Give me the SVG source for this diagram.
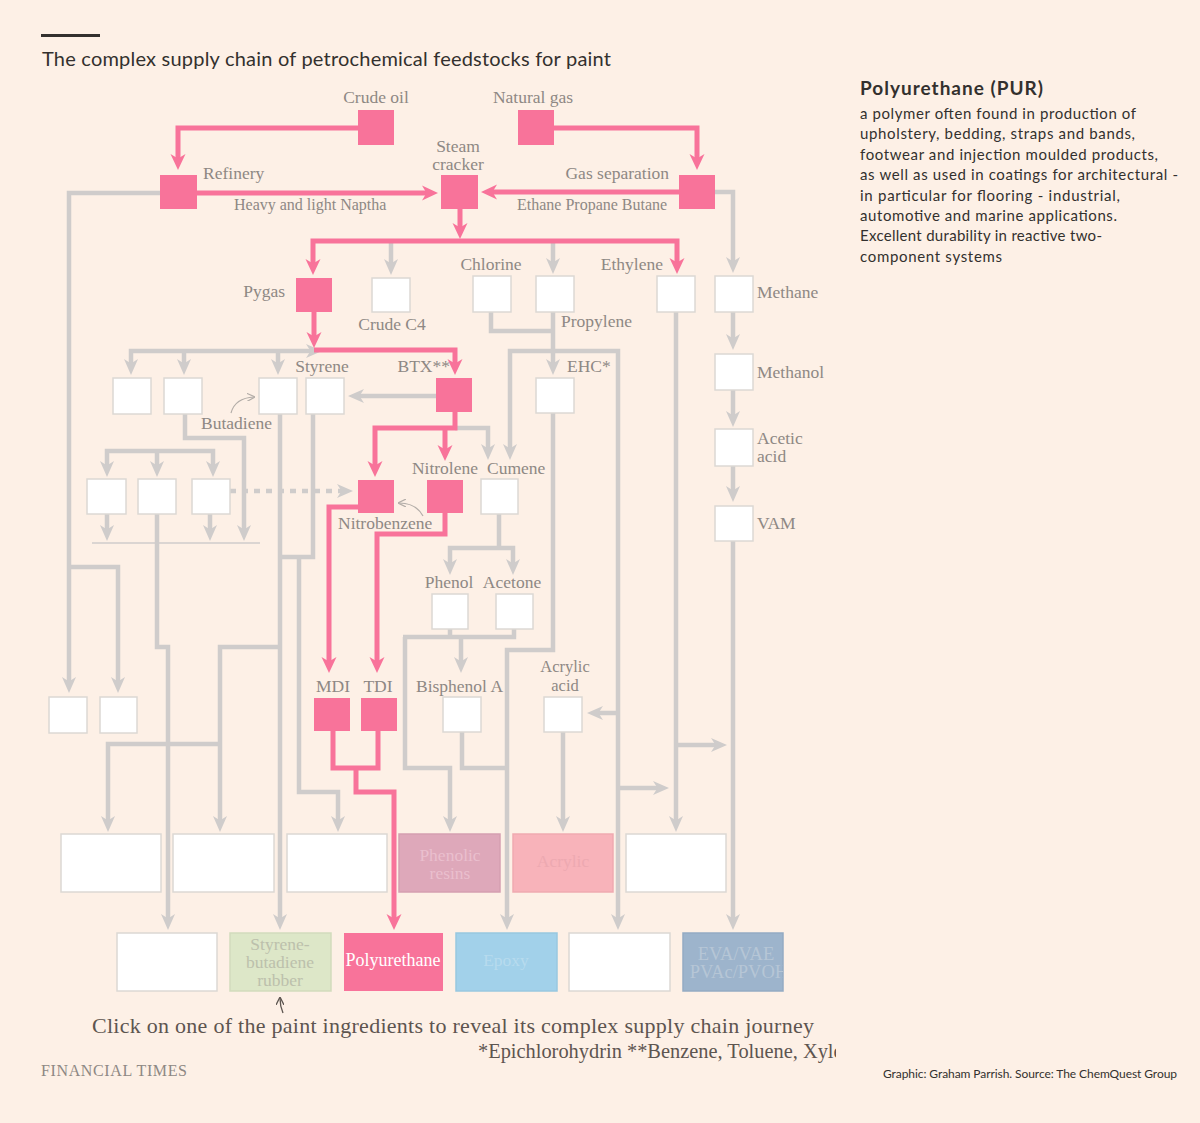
<svg xmlns="http://www.w3.org/2000/svg" width="1200" height="1123" viewBox="0 0 1200 1123">
<style>
.pk{fill:#f8739a}
.wb{fill:#fff;stroke:#dcd8d4;stroke-width:1.5}
.lbl{font-family:"Liberation Serif",serif;font-size:17.5px;fill:#8e8884}
.sm{font-size:16px}
.mid{text-anchor:middle}
.end{text-anchor:end}
.cp{fill:none;stroke:#f8739a;stroke-width:5}
.cg{fill:none;stroke:#cfcccb;stroke-width:4.5}
.ap{marker-end:url(#ap)}
.ag{marker-end:url(#ag)}
.sans{font-family:Lato,"Liberation Sans",sans-serif;fill:#33302e}
.ptr{fill:none;stroke:#b3ada8;stroke-width:1.2}
</style>
<defs>
<marker id="ap" viewBox="0 0 16 16" markerWidth="16" markerHeight="16" refX="8" refY="8" markerUnits="userSpaceOnUse" orient="auto-start-reverse"><path d="M0,0.5 L16,8 L0,15.5 L4.5,8 Z" fill="#f8739a"/></marker>
<marker id="ag" viewBox="0 0 16 16" markerWidth="16" markerHeight="16" refX="8" refY="8" markerUnits="userSpaceOnUse" orient="auto-start-reverse"><path d="M0,1 L16,8 L0,15 L4.5,8 Z" fill="#cfcccb"/></marker>
<marker id="as" viewBox="0 0 8 8" markerWidth="8" markerHeight="8" refX="7" refY="4" markerUnits="userSpaceOnUse" orient="auto"><path d="M0,0 L8,4 L0,8" fill="none" stroke="#b3ada8" stroke-width="1.2"/></marker>
<marker id="asd" viewBox="0 0 8 8" markerWidth="8" markerHeight="8" refX="7" refY="4" markerUnits="userSpaceOnUse" orient="auto"><path d="M0,0 L8,4 L0,8" fill="none" stroke="#5d5550" stroke-width="1.3"/></marker>
<clipPath id="clipDiag"><rect x="0" y="0" width="836" height="1123"/></clipPath>
<clipPath id="clipEva"><rect x="683" y="933" width="100" height="58"/></clipPath>
</defs>
<rect x="0" y="0" width="1200" height="1123" fill="#fdf0e6"/>

<!-- header -->
<rect x="41" y="34" width="59" height="3" fill="#33302e"/>
<text class="sans" x="42" y="66" font-size="20" textLength="569">The complex supply chain of petrochemical feedstocks for paint</text>

<!-- connectors -->
<g id="connectors">
  <!-- grey -->
  <path class="cg ag" d="M160,193 H69 V685"/>
  <path class="cg ag" d="M69,567 H118 V685"/>
  <path class="cg ag" d="M715,192 H733 V265"/>
  <path class="cg ag" d="M391,243 V267"/>
  <path class="cg ag" d="M553,243 V266"/>
  <path class="cg ag" d="M733,312 V342"/>
  <path class="cg ag" d="M733,390 V419"/>
  <path class="cg ag" d="M733,466 V494"/>
  <path class="cg ag" d="M733,541 V922"/>
  <path class="cg" d="M491,312 V331 H555"/>
  <path class="cg ag" d="M553,312 V367"/>
  <path class="cg ag" d="M510,452 V351 H618 V922" marker-start="url(#ag)"/>
  <path class="cg ag" d="M618,713 H595"/>
  <path class="cg ag" d="M618,788 H661"/>
  <path class="cg ag" d="M676,312 V824"/>
  <path class="cg ag" d="M676,745 H719"/>
  <path class="cg ag" d="M553,413 V650 H507 V922"/>
  <path class="cg" d="M462,732 V768 H509"/>
  <path class="cg" d="M499,514 V548"/>
  <path class="cg ag" d="M450,567 V548 H513 V567" marker-start="url(#ag)"/>
  <path class="cg" d="M450,629 V637 M514,629 V637 M403,637 H516.2"/>
  <path class="cg ag" d="M405,637 V768 H450 V824"/>
  <path class="cg ag" d="M461,637 V665"/>
  <path class="cg ag" d="M563,732 V824"/>
  <path class="cg ag" d="M436,396 H356"/>
  <path class="cg ag" d="M455,428 H488 V452"/>
  <path class="cg ag" d="M131,367 V351 H314" marker-start="url(#ag)"/>
  <path class="cg ag" d="M184,351 V367"/>
  <path class="cg ag" d="M278,351 V367"/>
  <path class="cg ag" d="M185,414 V438 H244 V533"/>
  <path class="cg ag" d="M107,469 V451 H213 V469" marker-start="url(#ag)"/>
  <path class="cg ag" d="M157,451 V469"/>
  <path class="cg ag" d="M107,514 V533"/>
  <path class="cg ag" d="M210,514 V533"/>
  <path d="M92,543 H260" fill="none" stroke="#cfcccb" stroke-width="1.5"/>
  <path class="cg ag" d="M157,514 V647 H168 V922"/>
  <path class="cg ag" d="M230,491 H345" stroke-dasharray="6,6"/>
  <path class="cg ag" d="M280,414 V922"/>
  <path class="cg ag" d="M280,647 H220 V824"/>
  <path class="cg ag" d="M220,744 H108 V824"/>
  <path class="cg" d="M313,414 V557 H280"/>
  <path class="cg ag" d="M299,557 V792 H338 V824"/>
  <!-- pink -->
  <path class="cp ap" d="M358,128 H178 V162"/>
  <path class="cp ap" d="M554,128 H697 V162"/>
  <path class="cp ap" d="M197,193 H430"/>
  <path class="cp ap" d="M679,192 H489"/>
  <path class="cp ap" d="M460,209 V231"/>
  <path class="cp ap" d="M313,267 V241 H677 V266" marker-start="url(#ap)"/>
  <path class="cp ap" d="M314,312 V340"/>
  <path class="cp ap" d="M314,350 H455 V367"/>
  <path class="cp ap" d="M455,412 V428 H375 V469"/>
  <path class="cp ap" d="M445,428 V453"/>
  <path class="cp ap" d="M358,507 H329 V665"/>
  <path class="cp ap" d="M445,513 V534 H377 V665"/>
  <path class="cp" d="M333,731 V768 H378 V731"/>
  <path class="cp ap" d="M356,768 V792 H394 V922"/>
  <!-- label pointers -->
  <path class="ptr" d="M231,413 Q235,398 254,397" marker-end="url(#as)"/>
  <path class="ptr" d="M423,516 Q416,503 399,503" marker-end="url(#as)"/>
</g>

<!-- nodes -->
<g id="crude-oil"><rect class="pk" x="358" y="110" width="36" height="35"/><text class="lbl mid" x="376" y="103">Crude oil</text></g>
<g id="natural-gas"><rect class="pk" x="518" y="110" width="36" height="35"/><text class="lbl mid" x="533" y="103">Natural gas</text></g>
<g id="refinery"><rect class="pk" x="160" y="175" width="37" height="34"/><text class="lbl" x="203" y="179">Refinery</text><text class="lbl sm" x="234" y="210">Heavy and light Naptha</text></g>
<g id="steam-cracker"><rect class="pk" x="441" y="175" width="37" height="34"/><text class="lbl mid" x="458" y="152">Steam<tspan x="458" dy="18">cracker</tspan></text></g>
<g id="gas-separation"><rect class="pk" x="679" y="175" width="36" height="34"/><text class="lbl end" x="669" y="179">Gas separation</text><text class="lbl sm" x="517" y="210">Ethane Propane Butane</text></g>
<g id="pygas"><rect class="pk" x="296" y="278" width="36" height="34"/><text class="lbl end" x="285" y="297">Pygas</text></g>
<g id="crude-c4"><rect class="wb" x="372" y="278" width="38" height="34"/><text class="lbl mid" x="392" y="330">Crude C4</text></g>
<g id="chlorine"><rect class="wb" x="473" y="276" width="38" height="36"/><text class="lbl mid" x="491" y="270">Chlorine</text></g>
<g id="propylene"><rect class="wb" x="536" y="276" width="38" height="36"/><text class="lbl" x="561" y="327">Propylene</text></g>
<g id="ethylene"><rect class="wb" x="657" y="276" width="38" height="36"/><text class="lbl end" x="663" y="270">Ethylene</text></g>
<g id="methane"><rect class="wb" x="715" y="276" width="38" height="36"/><text class="lbl" x="757" y="298">Methane</text></g>
<g id="methanol"><rect class="wb" x="715" y="354" width="38" height="36"/><text class="lbl" x="757" y="378">Methanol</text></g>
<g id="acetic-acid"><rect class="wb" x="715" y="429" width="38" height="37"/><text class="lbl" x="757" y="444">Acetic<tspan x="757" dy="18">acid</tspan></text></g>
<g id="vam"><rect class="wb" x="715" y="506" width="38" height="35"/><text class="lbl" x="757" y="529">VAM</text></g>
<g id="ehc"><rect class="wb" x="536" y="378" width="38" height="35"/><text class="lbl" x="567" y="372">EHC*</text></g>
<g id="btx"><rect class="pk" x="436" y="378" width="36" height="34"/><text class="lbl end" x="450" y="372">BTX**</text></g>
<g id="node-a"><rect class="wb" x="113" y="378" width="38" height="36"/></g>
<g id="node-b"><rect class="wb" x="164" y="378" width="38" height="36"/></g>
<g id="butadiene"><rect class="wb" x="259" y="378" width="38" height="36"/><text class="lbl" x="201" y="429">Butadiene</text></g>
<g id="styrene"><rect class="wb" x="306" y="378" width="38" height="36"/><text class="lbl mid" x="322" y="372">Styrene</text></g>
<g id="node-c"><rect class="wb" x="87" y="479" width="39" height="35"/></g>
<g id="node-d"><rect class="wb" x="138" y="479" width="38" height="35"/></g>
<g id="node-e"><rect class="wb" x="192" y="479" width="38" height="35"/></g>
<g id="nitrobenzene"><rect class="pk" x="358" y="480" width="36" height="33"/><text class="lbl" x="338" y="529">Nitrobenzene</text></g>
<g id="nitrolene"><rect class="pk" x="427" y="480" width="36" height="33"/><text class="lbl end" x="478" y="474">Nitrolene</text></g>
<g id="cumene"><rect class="wb" x="481" y="479" width="37" height="35"/><text class="lbl" x="487" y="474">Cumene</text></g>
<g id="phenol"><rect class="wb" x="432" y="594" width="36" height="35"/><text class="lbl mid" x="449" y="588">Phenol</text></g>
<g id="acetone"><rect class="wb" x="496" y="594" width="37" height="35"/><text class="lbl mid" x="512" y="588">Acetone</text></g>
<g id="mdi"><rect class="pk" x="314" y="698" width="36" height="33"/><text class="lbl mid" x="333" y="692">MDI</text></g>
<g id="tdi"><rect class="pk" x="361" y="698" width="36" height="33"/><text class="lbl mid" x="378" y="692">TDI</text></g>
<g id="bisphenol-a"><rect class="wb" x="443" y="697" width="38" height="35"/><text class="lbl" x="416" y="692">Bisphenol A</text></g>
<g id="acrylic-acid"><rect class="wb" x="544" y="697" width="38" height="35"/><text class="lbl mid" x="565" y="672" style="font-size:16.5px">Acrylic<tspan x="565" dy="18.5">acid</tspan></text></g>
<g id="node-f"><rect class="wb" x="49" y="697" width="38" height="36"/></g>
<g id="node-g"><rect class="wb" x="100" y="697" width="37" height="36"/></g>

<!-- paint ingredients row 1 -->
<g id="out-1"><rect class="wb" x="61" y="834" width="100" height="58"/></g>
<g id="out-2"><rect class="wb" x="173" y="834" width="101" height="58"/></g>
<g id="out-3"><rect class="wb" x="287" y="834" width="100" height="58"/></g>
<g id="phenolic-resins"><rect x="399" y="834" width="101" height="58" fill="#dea8ba" stroke="#d59fb1" stroke-width="1.5"/><text class="lbl mid" x="450" y="861" style="fill:#eabfce">Phenolic<tspan x="450" dy="18">resins</tspan></text></g>
<g id="acrylic"><rect x="513" y="834" width="100" height="58" fill="#f8b3ba" stroke="#efaab1" stroke-width="1.5"/><text class="lbl mid" x="563" y="867" style="fill:#eda9b1">Acrylic</text></g>
<g id="out-6"><rect class="wb" x="626" y="834" width="100" height="58"/></g>

<!-- paint ingredients row 2 -->
<g id="out-7"><rect class="wb" x="117" y="933" width="100" height="58"/></g>
<g id="sbr"><rect x="230" y="933" width="101" height="58" fill="#dde7c8" stroke="#d2dbbd" stroke-width="1.5"/><text class="lbl mid" x="280" y="950" style="fill:#bcc0ac">Styrene-<tspan x="280" dy="18">butadiene</tspan><tspan x="280" dy="18">rubber</tspan></text></g>
<g id="polyurethane"><rect class="pk" x="344" y="933" width="99" height="58"/><text class="lbl mid" x="393" y="966" style="fill:#ffffff;font-size:18px">Polyurethane</text></g>
<g id="epoxy"><rect x="456" y="933" width="101" height="58" fill="#a2d1ea" stroke="#98c7e0" stroke-width="1.5"/><text class="lbl mid" x="506" y="966" style="fill:#b7dbee">Epoxy</text></g>
<g id="out-10"><rect class="wb" x="569" y="933" width="101" height="58"/></g>
<g id="eva"><rect x="683" y="933" width="100" height="58" fill="#9db4cc" stroke="#94abc3" stroke-width="1.5"/><g clip-path="url(#clipEva)"><text class="lbl mid" x="736" y="960" style="fill:#b6c6d6;font-size:18.5px">EVA/VAE<tspan x="739" dy="18">PVAc/PVOH</tspan></text></g></g>

<!-- footer -->
<path d="M283,1013 Q280,1006 280,998" fill="none" stroke="#5d5550" stroke-width="1.3" marker-end="url(#asd)"/>
<text x="92" y="1033" font-family="Liberation Serif, serif" font-size="22" fill="#5d5550" textLength="722">Click on one of the paint ingredients to reveal its complex supply chain journey</text>
<g clip-path="url(#clipDiag)"><text x="478" y="1058" font-family="Liberation Serif, serif" font-size="20.4" fill="#5d5550">*Epichlorohydrin **Benzene, Toluene, Xylene</text></g>
<text x="41" y="1076" font-family="Liberation Serif, serif" font-size="16" fill="#8e8884" textLength="146">FINANCIAL TIMES</text>

<!-- side panel -->
<g id="side-panel">
<text class="sans" x="860" y="95" font-size="19" font-weight="bold" textLength="183">Polyurethane (PUR)</text>
<text class="sans" x="860" y="119" font-size="15" textLength="276">a polymer often found in production of</text>
<text class="sans" x="860" y="139" font-size="15" textLength="275">upholstery, bedding, straps and bands,</text>
<text class="sans" x="860" y="160" font-size="15" textLength="298">footwear and injection moulded products,</text>
<text class="sans" x="860" y="180" font-size="15" textLength="318">as well as used in coatings for architectural -</text>
<text class="sans" x="860" y="201" font-size="15" textLength="260">in particular for flooring - industrial,</text>
<text class="sans" x="860" y="221" font-size="15" textLength="257">automotive and marine applications.</text>
<text class="sans" x="860" y="241" font-size="15" textLength="242">Excellent durability in reactive two-</text>
<text class="sans" x="860" y="262" font-size="15" textLength="142">component systems</text>
</g>
<text class="sans" x="883" y="1078" font-size="12" textLength="294">Graphic: Graham Parrish. Source: The ChemQuest Group</text>
</svg>
